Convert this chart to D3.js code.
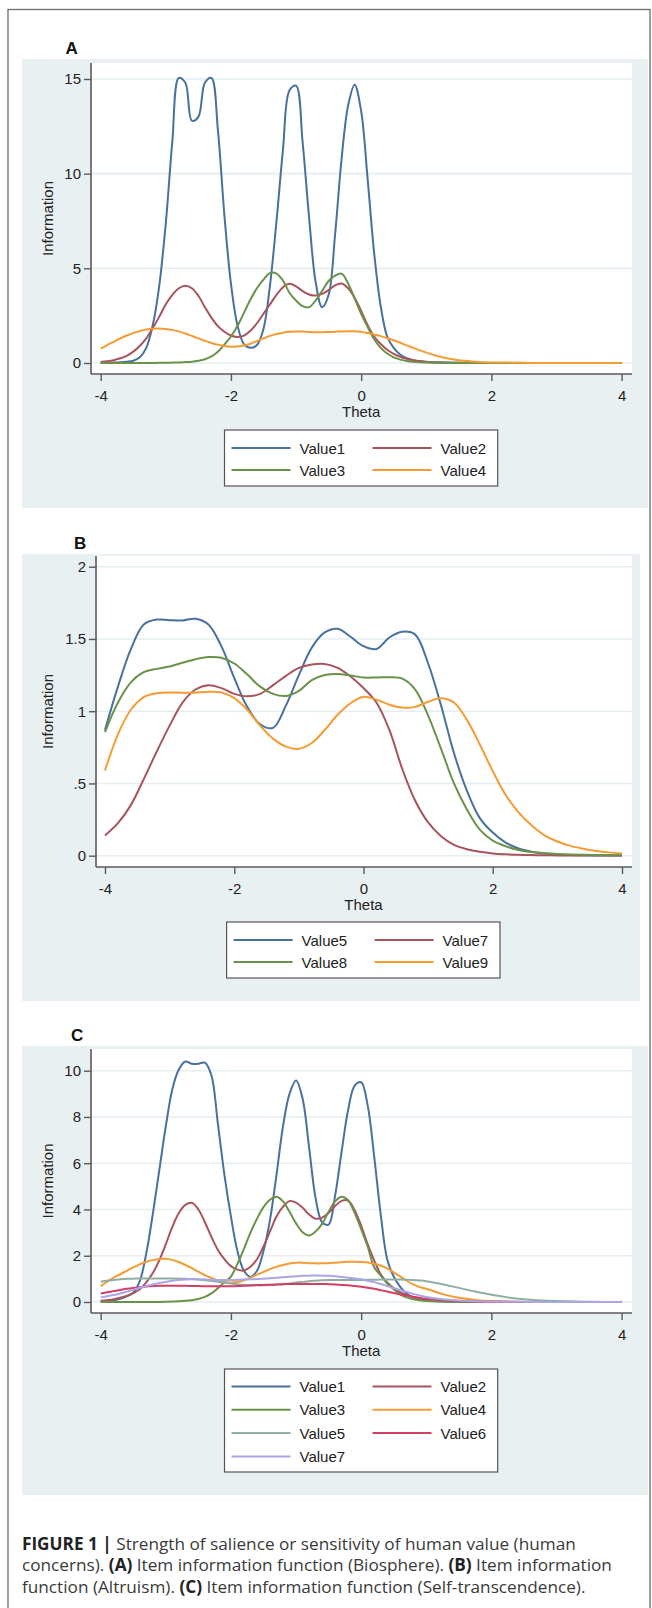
<!DOCTYPE html>
<html>
<head>
<meta charset="utf-8">
<script src="https://cdn.jsdelivr.net/npm/d3@7"></script>
<style>
  body { margin: 0; background: #fff; }
  svg { display: block; font-family: "Liberation Sans", Arial, sans-serif; }
</style>
</head>
<body>
<script>
// theta grid used by panels A and C
var thetaAC = [-4,-3.9,-3.8,-3.7,-3.6,-3.5,-3.4,-3.3,-3.2,-3.1,
  -3,-2.9,-2.8,-2.7,-2.6,-2.5,-2.4,-2.3,-2.2,-2.1,
  -2,-1.9,-1.8,-1.7,-1.6,-1.5,-1.4,-1.3,-1.2,-1.1,
  -1,-0.9,-0.8,-0.7,-0.6,-0.5,-0.4,-0.3,-0.2,-0.1,
  0,0.1,0.2,0.3,0.4,0.5,0.6,0.7,0.8,0.9,
  1,
  1.25,1.5,1.75,2,2.25,2.5,2.75,3,3.5,4];

// theta grid for panel B
var thetaB = [-4,-3.8,-3.6,-3.4,-3.2,-3,-2.8,-2.6,-2.4,-2.2,
  -2,-1.8,-1.6,-1.4,-1.2,-1,-0.8,-0.6,-0.4,-0.2,
  0,0.2,0.4,0.6,0.8,1,1.2,1.4,1.6,1.8,
  2,2.2,2.4,2.6,2.8,3,3.2,3.4,3.6,3.8,4];

var xTicks = [-4, -2, 0, 2, 4];
var yTicksA = [0, 5, 10, 15];
var yTicksB = [0, 0.5, 1, 1.5, 2];
var yTicksC = [0, 2, 4, 6, 8, 10];

// A: Biosphere
var namesA = ["Value1", "Value2", "Value3", "Value4"];
var a1 = [0,0.01,0.02,0.04,0.07,0.12,0.3,0.8,2.0,4.1,
  7.4,11.7,15.06,14.8,12.8,13.0,14.8,15.06,12.3,7.8,
  4.2,2.0,1.0,0.8,0.95,1.8,4.1,7.5,11.3,14.4,
  14.65,11.7,7.7,4.3,2.95,3.6,6.8,10.8,13.6,14.7,
  13.3,9.7,5.8,3.0,1.4,0.8,0.45,0.25,0.15,0.08,
  0.05,
  0.02,0.01,0,0,0,0,0,0,0,0];
var a2 = [0.05,0.09,0.15,0.25,0.38,0.6,0.9,1.3,1.85,2.45,
  3.1,3.6,3.95,4.08,3.95,3.55,2.95,2.4,1.95,1.65,
  1.45,1.37,1.45,1.7,2.1,2.6,3.1,3.6,4.0,4.18,
  4.05,3.8,3.62,3.56,3.65,3.85,4.1,4.2,3.95,3.45,
  2.75,2.0,1.4,1.0,0.7,0.48,0.33,0.22,0.15,0.1,
  0.07,
  0.03,0.01,0.01,0,0,0,0,0,0,0];
var a3 = [0,0,0,0,0,0,0,0,0,0.01,
  0.01,0.02,0.03,0.05,0.07,0.12,0.2,0.35,0.6,0.98,
  1.4,1.95,2.65,3.35,3.95,4.4,4.75,4.72,4.35,3.7,
  3.3,3.0,2.95,3.3,3.8,4.33,4.62,4.72,4.2,3.4,
  2.6,1.9,1.25,0.8,0.5,0.3,0.18,0.1,0.06,0.04,
  0.03,
  0.01,0,0,0,0,0,0,0,0,0];
var a4 = [0.76,0.95,1.12,1.3,1.45,1.58,1.69,1.77,1.81,1.82,
  1.8,1.75,1.67,1.56,1.43,1.3,1.17,1.06,0.97,0.9,
  0.86,0.87,0.92,1.02,1.16,1.3,1.43,1.53,1.6,1.65,
  1.67,1.66,1.64,1.63,1.63,1.64,1.65,1.67,1.68,1.68,
  1.65,1.58,1.5,1.42,1.32,1.2,1.07,0.93,0.8,0.67,
  0.55,
  0.3,0.14,0.07,0.03,0.02,0.01,0,0,0,0];

// B: Altruism
var namesB = ["Value5", "Value7", "Value8", "Value9"];
var b5 = [0.87,1.17,1.43,1.6,1.634,1.63,1.628,1.64,1.6,1.45,
  1.23,1.03,0.91,0.885,1.04,1.25,1.44,1.545,1.57,1.515,
  1.45,1.43,1.51,1.55,1.53,1.33,1.04,0.71,0.45,0.26,
  0.16,0.09,0.05,0.028,0.015,0.008,0.005,0.003,0.002,0.001,0.001];
var b7 = [0.14,0.225,0.35,0.53,0.72,0.9,1.06,1.15,1.18,1.16,
  1.12,1.103,1.12,1.18,1.245,1.3,1.323,1.327,1.3,1.24,
  1.16,1.06,0.87,0.6,0.38,0.23,0.135,0.075,0.045,0.027,
  0.016,0.01,0.006,0.004,0.003,0.002,0.001,0.001,0.001,0.001,0.001];
var b8 = [0.855,1.06,1.2,1.27,1.293,1.31,1.335,1.36,1.375,1.37,
  1.33,1.255,1.17,1.12,1.105,1.14,1.215,1.25,1.258,1.247,
  1.233,1.233,1.235,1.225,1.15,0.97,0.74,0.5,0.32,0.18,
  0.104,0.065,0.04,0.025,0.017,0.012,0.009,0.007,0.005,0.004,0.003];
var b9 = [0.59,0.84,1.01,1.098,1.124,1.13,1.128,1.128,1.135,1.13,
  1.09,1.01,0.9,0.81,0.755,0.74,0.78,0.87,0.975,1.055,
  1.1,1.08,1.045,1.025,1.03,1.065,1.09,1.06,0.94,0.77,
  0.585,0.42,0.3,0.21,0.14,0.098,0.068,0.048,0.033,0.023,0.016];

// C: Self-transcendence
var namesC = ["Value1", "Value2", "Value3", "Value4", "Value5", "Value6", "Value7"];
var c1 = [0.03,0.05,0.08,0.14,0.25,0.4,0.9,2.1,3.8,5.7,
  7.6,9.2,10.05,10.4,10.3,10.3,10.35,9.8,7.7,5.5,
  3.7,2.2,1.35,1.09,1.35,2.2,3.55,5.5,7.6,9.0,
  9.58,8.8,6.7,4.5,3.45,3.35,4.6,6.5,8.3,9.35,
  9.5,8.5,6.3,3.8,1.85,1.1,0.65,0.35,0.2,0.12,
  0.07,
  0.02,0.01,0,0,0,0,0,0,0,0];
var c2 = [0.05,0.08,0.12,0.18,0.26,0.38,0.55,0.85,1.25,1.8,
  2.5,3.25,3.85,4.2,4.29,4.0,3.45,2.82,2.25,1.85,
  1.55,1.4,1.36,1.52,1.85,2.4,3.05,3.7,4.12,4.36,
  4.3,4.08,3.78,3.6,3.65,3.85,4.15,4.37,4.38,3.97,
  3.3,2.5,1.8,1.2,0.85,0.6,0.42,0.3,0.2,0.14,
  0.1,
  0.04,0.02,0.01,0.01,0,0,0,0,0,0];
var c3 = [0,0,0,0,0,0,0,0,0,0,
  0.01,0.02,0.03,0.05,0.08,0.13,0.22,0.37,0.6,0.85,
  1.1,1.65,2.3,3.0,3.6,4.1,4.42,4.55,4.35,3.9,
  3.4,3.02,2.88,3.05,3.38,3.9,4.35,4.55,4.4,3.85,
  3.15,2.4,1.5,1.15,0.8,0.55,0.32,0.2,0.12,0.07,
  0.04,
  0.02,0.01,0,0,0,0,0,0,0,0];
var c4 = [0.68,0.88,1.05,1.2,1.35,1.5,1.63,1.74,1.81,1.86,
  1.87,1.82,1.73,1.6,1.46,1.31,1.16,1.04,0.93,0.87,
  0.84,0.86,0.94,1.05,1.18,1.3,1.42,1.52,1.6,1.66,
  1.7,1.7,1.68,1.67,1.67,1.68,1.7,1.72,1.74,1.74,
  1.73,1.71,1.66,1.58,1.45,1.28,1.1,0.92,0.76,0.65,
  0.57,
  0.34,0.18,0.09,0.04,0.02,0.01,0,0,0,0];
var c5 = [0.88,0.92,0.95,0.98,1.0,1.01,1.02,1.02,1.02,1.02,
  1.02,1.02,1.01,1.0,0.99,0.97,0.94,0.91,0.88,0.84,
  0.8,0.77,0.74,0.73,0.72,0.72,0.73,0.75,0.77,0.8,
  0.84,0.87,0.9,0.92,0.94,0.95,0.95,0.95,0.95,0.95,
  0.95,0.96,0.96,0.97,0.97,0.97,0.97,0.96,0.95,0.93,
  0.9,
  0.77,0.61,0.45,0.31,0.2,0.12,0.07,0.04,0.01,0];
var c6 = [0.37,0.42,0.47,0.52,0.57,0.61,0.64,0.67,0.69,0.7,
  0.7,0.7,0.7,0.7,0.69,0.69,0.68,0.68,0.68,0.68,
  0.68,0.69,0.7,0.71,0.73,0.74,0.75,0.76,0.77,0.78,
  0.78,0.78,0.78,0.78,0.78,0.77,0.76,0.74,0.72,0.69,
  0.66,0.62,0.57,0.51,0.45,0.39,0.33,0.28,0.23,0.18,
  0.14,
  0.08,0.04,0.02,0.01,0.01,0,0,0,0,0];
var c7 = [0.2,0.25,0.3,0.37,0.45,0.53,0.61,0.69,0.76,0.82,
  0.87,0.92,0.95,0.97,0.98,0.98,0.97,0.96,0.95,0.95,
  0.95,0.96,0.97,0.98,0.99,1.01,1.03,1.05,1.07,1.09,
  1.11,1.13,1.14,1.15,1.14,1.13,1.11,1.08,1.05,1.02,
  0.98,0.92,0.86,0.78,0.69,0.6,0.51,0.43,0.35,0.28,
  0.22,
  0.12,0.06,0.03,0.015,0.01,0.005,0,0,0,0];

var colors = ["#48719e", "#a8545c", "#6b9249", "#f49c33", "#8faea3", "#d43d66", "#aaa5e6"];

var captionLines = [
  [["FIGURE 1 | ", true], ["Strength of salience or sensitivity of human value (human", false]],
  [["concerns). ", false], ["(A)", true], [" Item information function (Biosphere). ", false], ["(B)", true], [" Item information", false]],
  [["function (Altruism). ", false], ["(C)", true], [" Item information function (Self-transcendence).", false]]
];

var W = 652, H = 1608;
var font = "Liberation Sans, Arial, sans-serif";

var svg = d3.select("body").append("svg")
    .attr("width", W)
    .attr("height", H);
var defs = svg.append("defs");

svg.append("rect").attr("width", W).attr("height", H).attr("fill", "#fff");

// outer figure frame
svg.append("rect")
    .attr("x", 8).attr("y", 9.5)
    .attr("width", 642).attr("height", 1620)
    .attr("fill", "none")
    .attr("stroke", "#6a6a6a")
    .attr("stroke-width", 1.3);

var panels = [
  {
    label: "A", labelX: 65.5, labelY: 54,
    bg: [22, 59, 648, 508], plot: [91, 63, 632, 374],
    xRange: [100.7, 621.6], yRange: [363, 79], yDomain: [0, 15], yTicks: yTicksA,
    theta: thetaAC, names: namesA, values: [a1, a2, a3, a4],
    legend: [224.5, 430, 497.7, 486], row0: 448, rowGap: 22
  },
  {
    label: "B", labelX: 74, labelY: 549,
    bg: [22, 554, 640, 1001], plot: [96, 556, 632, 867],
    xRange: [105, 622], yRange: [855.7, 566.7], yDomain: [0, 2], yTicks: yTicksB,
    theta: thetaB, names: namesB, values: [b5, b7, b8, b9],
    legend: [226.6, 922, 500, 978], row0: 940, rowGap: 22
  },
  {
    label: "C", labelX: 71, labelY: 1041,
    bg: [22, 1046, 648, 1495], plot: [91, 1049, 632, 1313],
    xRange: [100.7, 621.6], yRange: [1302, 1070.7], yDomain: [0, 10], yTicks: yTicksC,
    theta: thetaAC, names: namesC, values: [c1, c2, c3, c4, c5, c6, c7],
    legend: [224.5, 1369, 497.7, 1472], row0: 1386.5, rowGap: 23.3
  }
];

panels.forEach(drawPanel);

function drawPanel(p) {
  var g = svg.append("g");
  var left = p.plot[0], top = p.plot[1], right = p.plot[2], bottom = p.plot[3];

  g.append("text")
      .attr("x", p.labelX).attr("y", p.labelY)
      .attr("font-size", 17).attr("font-weight", "bold")
      .attr("fill", "#111")
      .text(p.label);

  g.append("rect")
      .attr("x", p.bg[0]).attr("y", p.bg[1])
      .attr("width", p.bg[2] - p.bg[0]).attr("height", p.bg[3] - p.bg[1])
      .attr("fill", "#e9f0f2");

  g.append("rect")
      .attr("x", left).attr("y", top)
      .attr("width", right - left).attr("height", bottom - top)
      .attr("fill", "#fff");

  var x = d3.scaleLinear().domain([-4, 4]).range(p.xRange);
  var y = d3.scaleLinear().domain(p.yDomain).range(p.yRange);

  g.selectAll(".grid")
      .data(p.yTicks)
      .enter().append("line")
      .attr("class", "grid")
      .attr("x1", left).attr("x2", right)
      .attr("y1", d => y(d)).attr("y2", d => y(d))
      .attr("stroke", "#e5eef0")
      .attr("stroke-width", 1.6);

  var clipId = "clip" + p.label;
  defs.append("clipPath").attr("id", clipId)
    .append("rect")
      .attr("x", left).attr("y", top)
      .attr("width", right - left).attr("height", bottom - top);

  var line = d3.line()
      .x((d, i) => x(p.theta[i]))
      .y(d => y(d))
      .curve(d3.curveCatmullRom.alpha(0.5));

  g.append("g")
      .attr("clip-path", "url(#" + clipId + ")")
    .selectAll("path")
      .data(p.values)
      .enter().append("path")
      .attr("d", d => line(d))
      .attr("fill", "none")
      .attr("stroke", (d, i) => colors[i])
      .attr("stroke-width", 2)
      .attr("stroke-linejoin", "round");

  // axes
  var yAxis = g.append("g")
      .attr("transform", "translate(" + left + ",0)")
      .call(d3.axisLeft(y).tickValues(p.yTicks).tickSize(7).tickPadding(3)
        .tickFormat(d => String(d).replace(/^0\./, ".")));
  var xAxis = g.append("g")
      .attr("transform", "translate(0," + bottom + ")")
      .call(d3.axisBottom(x).tickValues(xTicks).tickSize(7).tickPadding(9)
        .tickFormat(d => String(d)));

  [yAxis, xAxis].forEach(function(a) {
    a.select(".domain").remove();
    a.attr("font-size", 15).attr("font-family", font);
    a.selectAll(".tick line").attr("stroke", "#5a5a5a").attr("stroke-width", 1.4);
    a.selectAll(".tick text").attr("fill", "#222");
  });

  g.append("line")
      .attr("x1", left).attr("x2", left)
      .attr("y1", top).attr("y2", bottom)
      .attr("stroke", "#5a5a5a").attr("stroke-width", 1.6);
  g.append("line")
      .attr("x1", left).attr("x2", right)
      .attr("y1", bottom).attr("y2", bottom)
      .attr("stroke", "#5a5a5a").attr("stroke-width", 1.6);

  g.append("text")
      .attr("transform", "translate(53," + ((top + bottom) / 2) + ") rotate(-90)")
      .attr("text-anchor", "middle")
      .attr("font-size", 15).attr("fill", "#222")
      .text("Information");

  g.append("text")
      .attr("x", x(0)).attr("y", bottom + 43)
      .attr("text-anchor", "middle")
      .attr("font-size", 15).attr("fill", "#222")
      .text("Theta");

  // legend
  var lg = p.legend;
  g.append("rect")
      .attr("x", lg[0]).attr("y", lg[1])
      .attr("width", lg[2] - lg[0]).attr("height", lg[3] - lg[1])
      .attr("fill", "#fff")
      .attr("stroke", "#555").attr("stroke-width", 1.2);

  var items = g.selectAll(".item")
      .data(p.names)
      .enter().append("g")
      .attr("class", "item")
      .attr("transform", (d, i) => "translate(" + (lg[0] + (i % 2) * 141) + "," + (p.row0 + Math.floor(i / 2) * p.rowGap) + ")");

  items.append("line")
      .attr("x1", 7).attr("x2", 66)
      .attr("stroke", (d, i) => colors[i])
      .attr("stroke-width", 2);

  items.append("text")
      .attr("x", 75).attr("y", 5.5)
      .attr("font-size", 15).attr("fill", "#222")
      .text(d => d);
}

// caption, sized so the first line spans the same width as in the figure
var cap = svg.append("g")
    .attr("font-family", "Open Sans, sans-serif")
    .attr("font-size", 16)
    .attr("fill", "#3a3a3a");
cap.selectAll("text")
    .data(captionLines)
    .enter().append("text")
    .attr("x", 22)
    .attr("y", (d, i) => 1549.5 + i * 21.5)
    .selectAll("tspan")
    .data(d => d)
    .enter().append("tspan")
    .attr("font-weight", d => d[1] ? "bold" : null)
    .attr("fill", d => d[1] ? "#222" : null)
    .text(d => d[0]);

var firstW = cap.select("text").node().getComputedTextLength();
cap.attr("font-size", 16 * 554 / firstW);
</script>
</body>
</html>
